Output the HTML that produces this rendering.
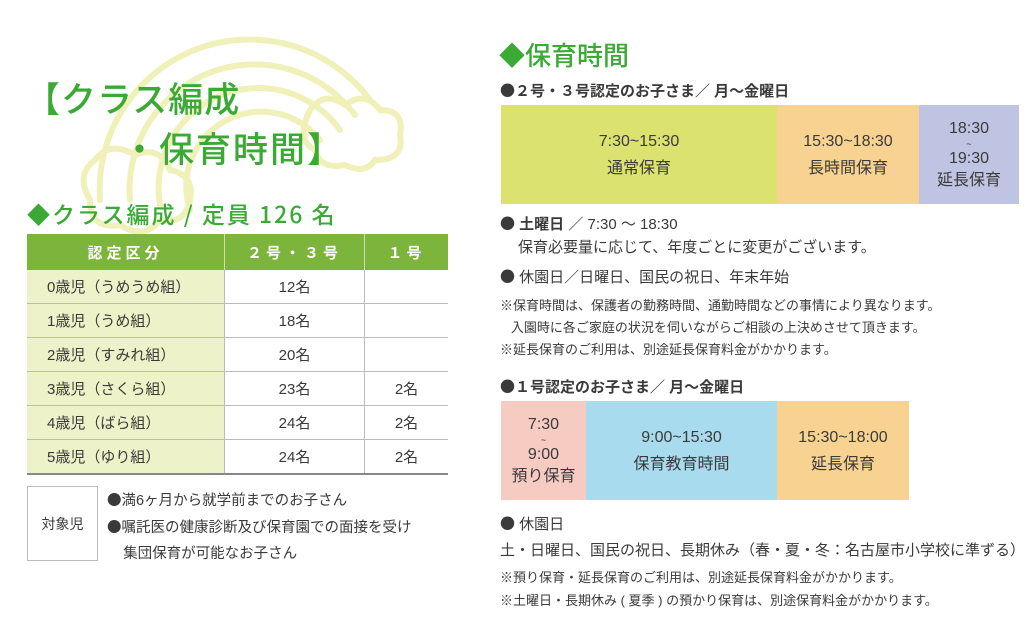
<!DOCTYPE html>
<html><head><meta charset="utf-8"><style>
body{margin:0;width:1024px;height:621px;background:#fff;position:relative;overflow:hidden;font-family:"Liberation Sans","Noto Sans CJK JP",sans-serif;color:#3a3a3a}
.a{position:absolute;white-space:nowrap}
.g{color:#3aaa35}
.b{font-family:"Noto Sans CJK JP",sans-serif}
table{border-collapse:collapse;position:absolute;left:27px;top:234px;width:421px;font-size:15px}
td{height:33px;border-bottom:1.5px solid #bbb;text-align:center;padding:0}
td.c1{background:#eef2c8;text-align:left;padding-left:20px;border-right:1.5px solid #bbb}
td.c2{border-right:1.5px solid #bbb}
th{background:#7db43c;color:#fff;height:34px;font-size:15px;letter-spacing:4px;border-right:1.5px solid #cfe0a8}
.box{position:absolute;display:flex;flex-direction:column;align-items:center;justify-content:center;font-size:16px;line-height:27px;text-align:center}
.s{font-size:13px}
</style></head><body>
<svg class="a" style="left:0;top:0" width="460" height="240">
<g fill="none" stroke="#eff1b8" stroke-width="6" stroke-linecap="round">
<path d="M100 200 A150 150 0 0 1 370 100"/>
<path d="M130 200 A125 125 0 0 1 355 115"/>
<path d="M160 205 A100 100 0 0 1 340 130"/>
<path d="M190 210 A75 75 0 0 1 320 140"/>
<path d="M310 110 q15 -20 35 -5 q20 -15 35 5 q25 0 20 25 q5 25 -25 25 q-10 15 -30 5 q-25 5 -30 -15 q-20 -10 -5 -40z"/>
<path d="M95 160 q15 -20 40 -5 q25 -10 35 15 q25 5 20 30 q-5 25 -30 20 q-15 20 -40 5 q-30 5 -30 -25 q-15 -25 5 -40z"/>
</g></svg>
<div class="a g b" style="left:25px;top:72px;font-size:35px;font-weight:500;letter-spacing:1px">【クラス編成</div>
<div class="a g b" style="left:122px;top:122px;font-size:35px;font-weight:500;letter-spacing:2px">・保育時間】</div>
<div class="a g b" style="left:27px;top:196px;font-size:23px;font-weight:500;letter-spacing:2px">◆クラス編成 / 定員 126 名</div>
<table>
<tr><th style="width:195px">認定区分</th><th style="width:137px">２号・３号</th><th style="border-right:none">１号</th></tr>
<tr><td class="c1">0歳児（うめうめ組）</td><td class="c2">12名</td><td></td></tr>
<tr><td class="c1">1歳児（うめ組）</td><td class="c2">18名</td><td></td></tr>
<tr><td class="c1">2歳児（すみれ組）</td><td class="c2">20名</td><td></td></tr>
<tr><td class="c1">3歳児（さくら組）</td><td class="c2">23名</td><td>2名</td></tr>
<tr><td class="c1">4歳児（ばら組）</td><td class="c2">24名</td><td>2名</td></tr>
<tr><td class="c1" style="border-bottom:2px solid #888">5歳児（ゆり組）</td><td class="c2" style="border-bottom:2px solid #888">24名</td><td style="border-bottom:2px solid #888">2名</td></tr>
</table>
<div class="a" style="left:27px;top:486px;width:71px;height:75px;border:1.5px solid #bbb;box-sizing:border-box;display:flex;align-items:center;justify-content:center;font-size:14px">対象児</div>
<div class="a" style="left:107px;top:487px;font-size:14.5px;line-height:26px"><span class="b">●</span>満6ヶ月から就学前までのお子さん<br><span class="b">●</span>嘱託医の健康診断及び保育園での面接を受け<br>&nbsp;&nbsp;&nbsp;&nbsp;集団保育が可能なお子さん</div>

<div class="a g b" style="left:499px;top:36px;font-size:26px;font-weight:500">◆保育時間</div>
<div class="a" style="left:500px;top:80px;font-size:15px;font-weight:bold"><span class="b">●</span>２号・３号認定のお子さま／ 月～金曜日</div>
<div class="box" style="left:501px;top:105px;width:276px;height:99px;background:#dce26f">7:30~15:30<br>通常保育</div>
<div class="box" style="left:777px;top:105px;width:142px;height:99px;background:#f8d291">15:30~18:30<br>長時間保育</div>
<div class="box" style="left:919px;top:105px;width:100px;height:99px;background:#bfc4e2;line-height:22px">18:30<br><span style="font-size:9px;line-height:8px">~</span>19:30<br>延長保育</div>
<div class="a" style="left:500px;top:213px;font-size:15px"><b><span class="b">●</span> 土曜日</b> ／ 7:30 ～ 18:30</div>
<div class="a" style="left:518px;top:236px;font-size:15px">保育必要量に応じて、年度ごとに変更がございます。</div>
<div class="a" style="left:500px;top:266px;font-size:15px"><span class="b">●</span> 休園日／日曜日、国民の祝日、年末年始</div>
<div class="a s" style="left:500px;top:295px;line-height:22px">※保育時間は、保護者の勤務時間、通勤時間などの事情により異なります。<br>&nbsp;&nbsp;&nbsp;入園時に各ご家庭の状況を伺いながらご相談の上決めさせて頂きます。<br>※延長保育のご利用は、別途延長保育料金がかかります。</div>
<div class="a" style="left:500px;top:376px;font-size:15px;font-weight:bold"><span class="b">●</span>１号認定のお子さま／ 月～金曜日</div>
<div class="box" style="left:501px;top:401px;width:85px;height:99px;background:#f5cbc2;line-height:22px">7:30<br><span style="font-size:9px;line-height:8px">~</span>9:00<br>預り保育</div>
<div class="box" style="left:586px;top:401px;width:191px;height:99px;background:#a8dbee">9:00~15:30<br>保育教育時間</div>
<div class="box" style="left:777px;top:401px;width:132px;height:99px;background:#f8d291">15:30~18:00<br>延長保育</div>
<div class="a" style="left:500px;top:513px;font-size:15px"><span class="b">●</span> 休園日</div>
<div class="a" style="left:500px;top:539px;font-size:15px">土・日曜日、国民の祝日、長期休み（春・夏・冬：名古屋市小学校に準ずる）</div>
<div class="a s" style="left:500px;top:566px;line-height:23px">※預り保育・延長保育のご利用は、別途延長保育料金がかかります。<br>※土曜日・長期休み ( 夏季 ) の預かり保育は、別途保育料金がかかります。</div>
</body></html>
